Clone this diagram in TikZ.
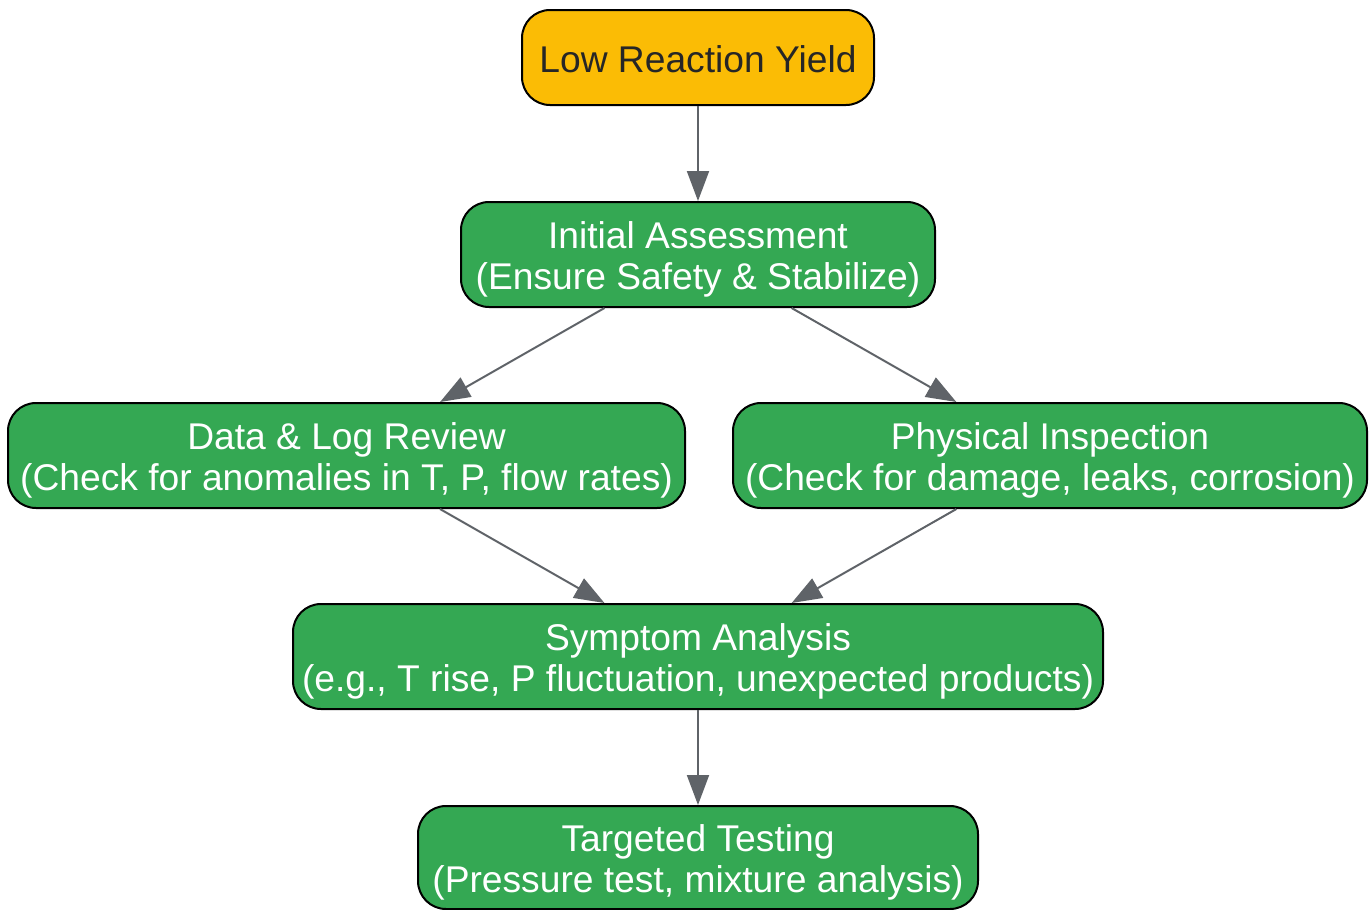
\documentclass[tikz,border=0pt]{standalone}
\usepackage{fontspec}
\setmainfont{Liberation Sans}
\usetikzlibrary{arrows.meta}
\definecolor{keltainen}{HTML}{FBBC05}
\definecolor{vihrea}{HTML}{34A853}
\definecolor{harmaa}{HTML}{5F6368}
\tikzset{
  vaihe/.style={draw=black, line width=1pt, rounded corners=14pt, fill=vihrea,
    text=white, align=center, minimum height=52.5pt, inner xsep=4pt,
    font=\fontsize{18.6}{20.5}\selectfont, text height=35pt, text depth=0pt},
  alku/.style={draw=black, line width=1pt, rounded corners=14pt, fill=keltainen,
    text=black!85, minimum height=47.5pt, inner xsep=4pt,
    font=\fontsize{18.6}{20.5}\selectfont, text height=14.6pt, text depth=0pt},
  nuoli/.style={draw=harmaa, line width=1pt, -{Triangle[length=15pt,width=11pt]}}
}
\begin{document}
\begin{tikzpicture}[x=1pt,y=1pt]
				\useasboundingbox (0,0) rectangle (686,-455);
				\node[alku, minimum width=176pt] (saanto) at (349,-28.75) {Low Reaction Yield};
				\node[vaihe, minimum width=237pt] (arvio) at (349,-127.25) {Initial Assessment\\(Ensure Safety \& Stabilize)};
				\node[vaihe, minimum width=338.5pt] (loki) at (173.25,-227.75) {Data \& Log Review\\(Check for anomalies in T, P, flow rates)};
				\node[vaihe, minimum width=317pt] (tarkastus) at (525,-227.75) {Physical Inspection\\(Check for damage, leaks, corrosion)};
				\node[vaihe, minimum width=405pt] (oireet) at (349,-328.25) {Symptom Analysis\\(e.g., T rise, P fluctuation, unexpected products)};
				\node[vaihe, minimum width=280pt, minimum height=51.5pt] (testaus) at (349,-428.75) {Targeted Testing\\(Pressure test, mixture analysis)};
				\draw[nuoli] (saanto) -- (arvio);
				\draw[nuoli] (arvio) -- (loki);
				\draw[nuoli] (arvio) -- (tarkastus);
				\draw[nuoli] (loki) -- (oireet);
				\draw[nuoli] (tarkastus) -- (oireet);
				\draw[nuoli] (oireet) -- (testaus);
			\end{tikzpicture}
\end{document}
